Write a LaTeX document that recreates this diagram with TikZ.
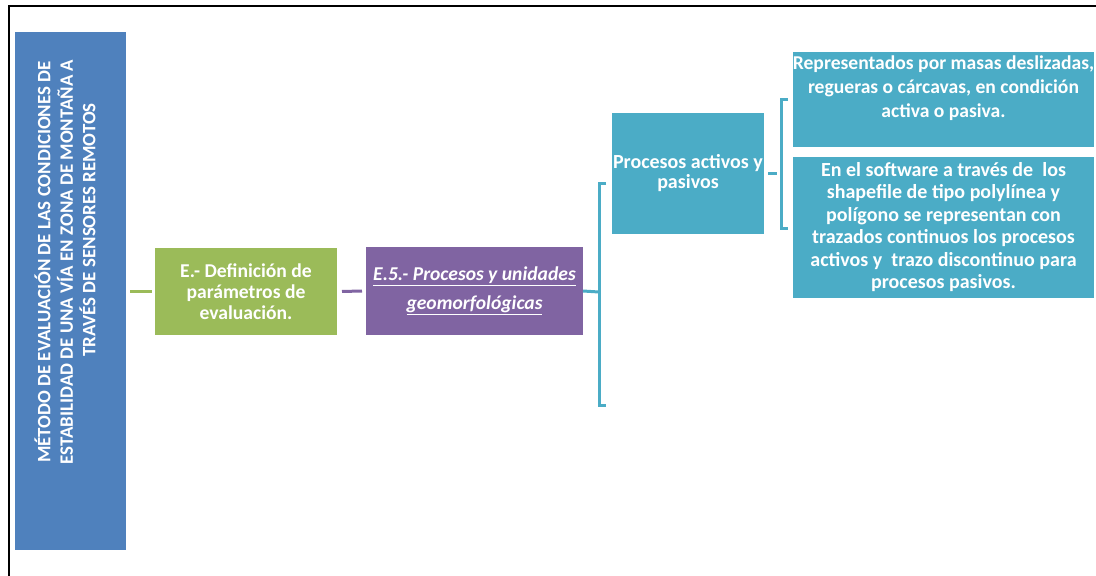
\documentclass[tikz,border=0pt]{standalone}
\usepackage{fontspec}
\setmainfont{Carlito}
\usetikzlibrary{calc}
\definecolor{mainblue}{HTML}{4F81BD}
\definecolor{leafgreen}{HTML}{9BBB59}
\definecolor{violet}{HTML}{8064A2}
\definecolor{teal}{HTML}{4BACC6}
\begin{document}
\begin{tikzpicture}[x=1pt,y=-1pt,
  panel/.style={draw=none, inner sep=0pt, outer sep=0pt, align=center, text=white,
    font=\bfseries\fontsize{20}{20}\selectfont},
  link/.style={line width=3pt},
]
\useasboundingbox (0,0) rectangle (1096,576);
\fill[white] (0,0) rectangle (1096,576);
% page frame (top and left edges only)
\draw[line width=2pt] (9,576) -- (9,6) -- (1096,6);

% title column
\node[panel, fill=mainblue, minimum width=111pt, minimum height=518pt] (title) at (70.5,291) {};
\node[panel, rotate=90, font=\bfseries\fontsize{18.9}{22.5}\selectfont] (titletext) at (65,262)
  {MÉTODO DE EVALUACIÓN DE LAS CONDICIONES DE\\
   ESTABILIDAD DE UNA VÍA EN ZONA DE MONTAÑA A\\
   \hspace*{64pt}TRAVÉS DE SENSORES REMOTOS};

% level 1 and 2
\node[panel, fill=leafgreen, minimum width=182pt, minimum height=87pt,
  font=\bfseries\fontsize{19.6}{21}\selectfont] (defin) at (246,291.5)
  {E.- Definición de\\parámetros de\\evaluación.};
\node[panel, fill=violet, minimum width=217pt, minimum height=88pt,
  font=\bfseries\itshape\fontsize{19.6}{29}\selectfont] (geomorf) at (474.5,291)
  {\underline{E.5.- Procesos y unidades}\\\underline{geomorfológicas}};

% level 3
\node[panel, fill=teal, minimum width=152pt, minimum height=121pt] (procesos) at (688,173.5)
  {Procesos activos y\\pasivos};

% level 4
\node[panel, fill=teal, minimum width=301pt, minimum height=95pt] (repres) at (943.5,99.5) {};
\node[panel, font=\bfseries\fontsize{19.6}{24}\selectfont] (represtext) at (943.5,88)
  {Representados por masas deslizadas,\\regueras o cárcavas, en condición\\activa o pasiva.};
\node[panel, fill=teal, minimum width=301pt, minimum height=141pt,
  font=\bfseries\fontsize{20}{22.5}\selectfont] (software) at (943.5,227)
  {En el software a través de\ \ los\\shapefile de tipo polylínea y\\polígono se representan con\\
   trazados continuos los procesos\\activos y\ \ trazo discontinuo para\\procesos pasivos.};

% connectors
\draw[link, leafgreen, shorten <=4pt, shorten >=3pt] (title.east |- defin.west) -- (defin.west);
\draw[link, violet, shorten <=5pt, shorten >=4pt] (defin.east) -- (geomorf.west);

\coordinate (fork1) at (599,292);
\coordinate (tip1a) at (606,183);
\coordinate (tip1b) at (606,405);
\draw[link, teal] (geomorf.east) -- (fork1);
\draw[link, teal] (tip1a) -- (tip1a -| fork1) -- (tip1b -| fork1) -- (tip1b);

\coordinate (fork2) at (781,173.5);
\coordinate (tip2a) at (788,99.5);
\coordinate (tip2b) at (788,228);
\draw[link, teal, shorten <=4pt] (procesos.east) -- ([xshift=-4pt]fork2);
\draw[link, teal] (tip2a) -- (tip2a -| fork2) -- (tip2b -| fork2) -- (tip2b);
\end{tikzpicture}
\end{document}
